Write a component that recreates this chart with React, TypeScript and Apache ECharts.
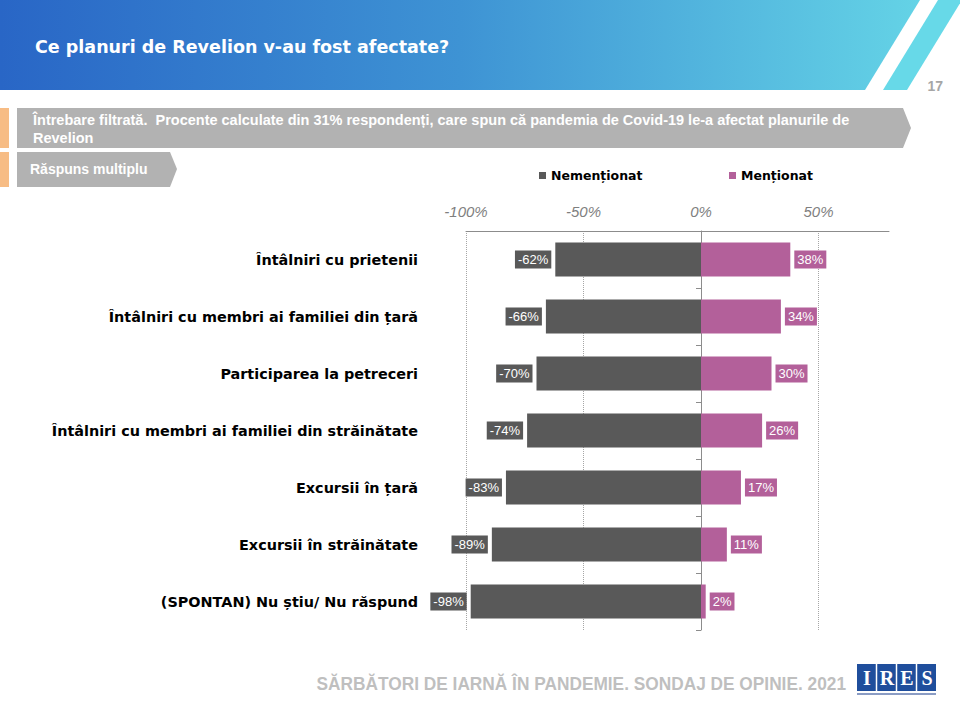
import React, { useEffect, useRef } from "react";
import * as echarts from "echarts";

const categories = [
  "Întâlniri cu prietenii",
  "Întâlniri cu membri ai familiei din țară",
  "Participarea la petreceri",
  "Întâlniri cu membri ai familiei din străinătate",
  "Excursii în țară",
  "Excursii în străinătate",
  "(SPONTAN) Nu știu/ Nu răspund",
];
const nementionat = [-62, -66, -70, -74, -83, -89, -98];
const mentionat = [38, 34, 30, 26, 17, 11, 2];
const gridLineValues = [-100, -50, 50];

const FONT = "'Liberation Sans', Arial, sans-serif";
const WIDE = "'DejaVu Sans', Verdana, sans-serif";
const DARK = "#595959";
const PINK = "#B3609A";

export default function App() {
  const ref = useRef<HTMLDivElement>(null);
  useEffect(() => {
    if (!ref.current) return;
    const chart = echarts.init(ref.current, null, { renderer: "svg" });
    const legendText = { fontFamily: WIDE, fontWeight: "bold", fontSize: 12.5, color: "#000" };
    const option: any = {
      animation: false,
      backgroundColor: "#ffffff",
      textStyle: { fontFamily: FONT },
      grid: { left: 466, top: 231, width: 423, height: 399, containLabel: false },
      legend: [
        {
          data: ["Nemenționat"],
          left: 534,
          top: 164,
          icon: "rect",
          itemWidth: 7,
          itemHeight: 7,
          itemGap: 5,
          textStyle: legendText,
        },
        {
          data: ["Menționat"],
          left: 724,
          top: 164,
          icon: "rect",
          itemWidth: 7,
          itemHeight: 7,
          itemGap: 5,
          textStyle: legendText,
        },
      ],
      xAxis: {
        type: "value",
        position: "top",
        min: -100,
        max: 80,
        interval: 50,
        axisLine: { show: true, lineStyle: { color: "#8c8c8c", width: 1 } },
        axisTick: { show: false },
        splitLine: { show: false },
        axisLabel: {
          formatter: "{value}%",
          showMaxLabel: false,
          margin: 12,
          fontStyle: "italic",
          fontSize: 15,
          color: "#7f7f7f",
          fontFamily: FONT,
        },
      },
      yAxis: [
        {
          type: "category",
          data: categories,
          inverse: true,
          axisLine: { show: true, onZero: true, lineStyle: { color: "#8c8c8c", width: 1 } },
          axisTick: { show: true, length: 5, lineStyle: { color: "#8c8c8c" } },
          axisLabel: { show: false },
        },
        {
          type: "category",
          data: categories,
          inverse: true,
          position: "left",
          axisLine: { show: false, onZero: false },
          axisTick: { show: false },
          axisLabel: {
            margin: 48,
            fontFamily: WIDE,
            fontWeight: "bold",
            fontSize: 14.4,
            color: "#000",
          },
        },
      ],
      series: [
        {
          name: "Nemenționat",
          type: "bar",
          stack: "total",
          yAxisIndex: 0,
          barWidth: 34,
          itemStyle: { color: DARK },
          data: nementionat,
          label: {
            show: true,
            position: "left",
            distance: 4,
            formatter: "{c}%",
            color: "#fff",
            fontFamily: FONT,
            fontSize: 13,
            backgroundColor: DARK,
            padding: [3, 3, 2, 3],
          },
          markLine: {
            silent: true,
            symbol: ["none", "none"],
            label: { show: false },
            lineStyle: { color: "#a6a6a6", type: "dotted", width: 1 },
            data: gridLineValues.map((v) => ({ xAxis: v })),
            z: 0,
          },
          z: 2,
        },
        {
          name: "Menționat",
          type: "bar",
          stack: "total",
          yAxisIndex: 0,
          barWidth: 34,
          itemStyle: { color: PINK },
          data: mentionat,
          label: {
            show: true,
            position: "right",
            distance: 4,
            formatter: "{c}%",
            color: "#fff",
            fontFamily: FONT,
            fontSize: 13,
            backgroundColor: PINK,
            padding: [3, 3, 2, 3],
          },
          z: 2,
        },
      ],
      graphic: [
        {
          type: "polygon",
          shape: { points: [[0, 0], [920, 0], [865, 90], [0, 90]] },
          style: {
            fill: new echarts.graphic.LinearGradient(0, 0, 1, 0, [
              { offset: 0, color: "#2966C6" },
              { offset: 0.5, color: "#3E93D4" },
              { offset: 1, color: "#64D3E6" },
            ]),
          },
          z: -1,
        },
        {
          type: "polygon",
          shape: { points: [[938, 0], [962, 0], [907, 90], [883, 90]] },
          style: { fill: "#67D9E8" },
          z: -1,
        },
        {
          type: "text",
          x: 35,
          y: 47,
          style: {
            text: "Ce planuri de Revelion v-au fost afectate?",
            fill: "#fff",
            font: `bold 17.5px ${WIDE}`,
            textVerticalAlign: "middle",
          },
        },
        {
          type: "text",
          x: 943,
          y: 86,
          style: {
            text: "17",
            fill: "#a6a6a6",
            font: `bold 14px ${FONT}`,
            textAlign: "right",
            textVerticalAlign: "middle",
          },
        },
        // subtitle box 1
        { type: "rect", shape: { x: 0, y: 108, width: 9, height: 40 }, style: { fill: "#F7BC84" } },
        {
          type: "polygon",
          shape: { points: [[17, 108], [903, 108], [911, 128], [903, 148], [17, 148]] },
          style: { fill: "#B2B2B2" },
        },
        {
          type: "text",
          x: 33,
          y: 111,
          style: {
            text:
              "Întrebare filtrată.  Procente calculate din 31% respondenți, care spun că pandemia de Covid-19 le-a afectat planurile de\nRevelion",
            fill: "#fff",
            font: `bold 14.5px ${FONT}`,
            lineHeight: 18,
          },
        },
        // subtitle box 2
        { type: "rect", shape: { x: 0, y: 152, width: 9, height: 35 }, style: { fill: "#F7BC84" } },
        {
          type: "polygon",
          shape: { points: [[17, 152], [170, 152], [177, 169], [170, 187], [17, 187]] },
          style: { fill: "#B2B2B2" },
        },
        {
          type: "text",
          x: 30,
          y: 169,
          style: {
            text: "Răspuns multiplu",
            fill: "#fff",
            font: `bold 14px ${FONT}`,
            textVerticalAlign: "middle",
          },
        },
        // footer
        {
          type: "text",
          x: 846,
          y: 684,
          scaleX: 0.91,
          style: {
            text: "SĂRBĂTORI DE IARNĂ ÎN PANDEMIE. SONDAJ DE OPINIE. 2021",
            fill: "#BFBFBF",
            font: `bold 19px ${FONT}`,
            textAlign: "right",
            textVerticalAlign: "middle",
          },
        },
        // IRES logo
        { type: "rect", shape: { x: 857, y: 664, width: 79, height: 27 }, style: { fill: "#1F4E9C" } },
        { type: "line", shape: { x1: 876.5, y1: 664, x2: 876.5, y2: 691 }, style: { stroke: "#fff", lineWidth: 1.5 } },
        { type: "line", shape: { x1: 896.5, y1: 664, x2: 896.5, y2: 691 }, style: { stroke: "#fff", lineWidth: 1.5 } },
        { type: "line", shape: { x1: 916.5, y1: 664, x2: 916.5, y2: 691 }, style: { stroke: "#fff", lineWidth: 1.5 } },
        ...["I", "R", "E", "S"].map((l, i) => ({
          type: "text",
          x: 867 + i * 20,
          y: 678,
          style: {
            text: l,
            fill: "#fff",
            font: `bold 20px 'Liberation Serif', serif`,
            textAlign: "center",
            textVerticalAlign: "middle",
          },
        })),
        { type: "rect", shape: { x: 857, y: 693, width: 79, height: 2 }, style: { fill: "#8a9cc4" } },
      ],
    };
    chart.setOption(option);
    return () => chart.dispose();
  }, []);
  return (
    <div
      ref={ref}
      style={{ position: "fixed", left: 0, top: 0, width: 960, height: 720, background: "#fff" }}
    />
  );
}
